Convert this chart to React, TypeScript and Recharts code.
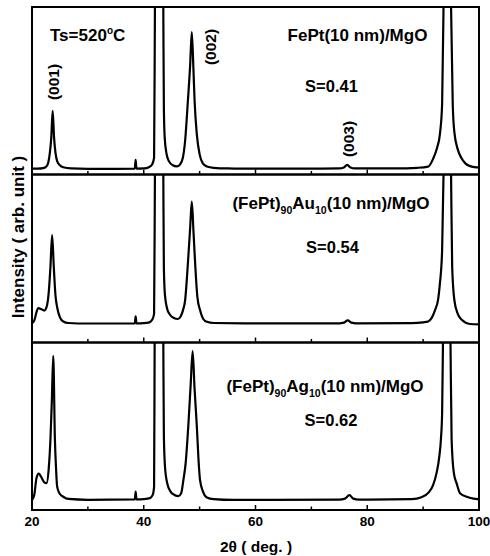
import React from 'react';
import { LineChart, Line, XAxis, YAxis, ReferenceArea } from 'recharts';

// 2θ (deg) vs intensity (% of panel height)
const fePtScan: [number, number][] = [
  [20, 3.5], [21, 3.5], [22, 3.8], [22.5, 4.5], [22.9, 7], [23.2, 13], [23.45, 22], [23.7, 38],
  [23.95, 22], [24.2, 13], [24.5, 8], [25, 5.5], [25.6, 4.3], [27, 3.6], [30, 3.4], [35, 3.4],
  [38.4, 3.5], [38.55, 8.7], [38.7, 3.5], [40, 3.6], [41, 4.5], [41.5, 6], [41.85, 10], [42, 100],
  [42.3, 250], [42.75, 400], [43.2, 250], [43.5, 100], [43.6, 40], [43.75, 22], [44.1, 12], [44.5, 8],
  [45.2, 5.5], [45.9, 4.8], [46.5, 6], [47, 10], [47.4, 20], [47.9, 44], [48.3, 65], [48.6, 85],
  [48.9, 62], [49.1, 44], [49.5, 24], [50, 12], [50.6, 6.5], [51.3, 4.8], [52.5, 4], [55, 3.6],
  [60, 3.5], [70, 3.5], [75, 3.6], [75.8, 4.2], [76.4, 5.8], [77, 4.2], [77.8, 3.6], [85, 3.6],
  [89, 4], [90.9, 4.7], [91.8, 9.5], [92.5, 16], [93, 24], [93.4, 42], [93.65, 100], [94.3, 400],
  [95, 100], [95.3, 42], [95.6, 25], [96.2, 15], [96.9, 9.5], [97.6, 6.5], [98.4, 5], [99.2, 4.4], [100, 4.2],
];

const fePtAuScan: [number, number][] = [
  [20, 11.4], [20.4, 13], [20.8, 18], [21.1, 20.5], [21.6, 20], [22.2, 19], [22.6, 21], [23, 30],
  [23.3, 45], [23.6, 64], [23.9, 45], [24.2, 28], [24.5, 21], [25, 15], [25.6, 12.5], [26.5, 11.6],
  [30, 11.3], [38.4, 11.4], [38.55, 15.5], [38.7, 11.4], [40, 11.5], [41, 12], [41.5, 13.5], [41.85, 17],
  [42, 100], [42.3, 250], [42.75, 400], [43.2, 250], [43.5, 100], [43.6, 45], [43.8, 28], [44.2, 20],
  [44.7, 16.5], [45.4, 14.6], [46.1, 14], [46.6, 15.5], [47, 19], [47.4, 25], [47.9, 47], [48.3, 68],
  [48.6, 83.8], [48.9, 66], [49.2, 47], [49.6, 27], [50.1, 19], [50.65, 14], [51.3, 12.3], [52.5, 11.6],
  [60, 11.4], [75, 11.4], [75.8, 11.8], [76.5, 13.2], [77.2, 11.8], [78, 11.4], [88, 11.5], [90, 12],
  [90.9, 12.5], [92.1, 19], [92.7, 26], [93, 35], [93.4, 55], [93.65, 100], [94.3, 400], [95, 100],
  [95.2, 45], [95.6, 25], [96.2, 17], [96.9, 13.5], [98.4, 11], [100, 10.8],
];

const fePtAgScan: [number, number][] = [
  [20, 6], [20.4, 9], [20.8, 19], [21.2, 21.8], [21.6, 20], [22.2, 16.5], [22.6, 16], [23, 25],
  [23.3, 42], [23.55, 65], [23.8, 92], [24.1, 42], [24.3, 25], [24.5, 14], [24.9, 10], [25.6, 7.9],
  [26.5, 6.6], [30, 6.1], [38.4, 6.3], [38.55, 11], [38.7, 6.3], [40, 6.5], [41.1, 7.1], [41.6, 9],
  [41.85, 14], [41.95, 100], [42.3, 250], [42.75, 400], [43.2, 250], [43.5, 100], [43.6, 45], [43.8, 26],
  [44.2, 16], [44.8, 11], [45.5, 9], [46.2, 8.3], [46.7, 10], [47.1, 18], [47.5, 28], [47.97, 50],
  [48.4, 75], [48.75, 94.8], [49.1, 72], [49.5, 50], [49.8, 30], [50.07, 18], [50.6, 11], [51.3, 7.5],
  [52.5, 6.5], [56, 6], [75, 6.2], [76, 6.8], [76.8, 8.9], [77.5, 6.8], [78.5, 6.2], [88, 6.5],
  [89.7, 7.6], [91, 10.5], [91.8, 15], [92.4, 22], [92.9, 32], [93.2, 43], [93.4, 58], [93.55, 100],
  [94.2, 400], [94.9, 100], [95.1, 42], [95.5, 22], [96, 15.9], [96.6, 10], [97.8, 7.9], [99, 6.8], [100, 6.4],
];

const xTicks = [20, 30, 40, 50, 60, 70, 80, 90, 100];
const xLabelTicks = [20, 40, 60, 80, 100];

const W = 490;
const H = 556;
const AXIS_H = 30;
const FONT = "'Liberation Sans', Arial, Helvetica, sans-serif";
const panelEdges = [7, 174.5, 342.5, 510];

const toRows = (scan: [number, number][]) => scan.map(([t, i]) => ({ t, i }));

const makeTick = (showLabel: boolean) => (props: any) => {
  const { x, y, payload } = props;
  const major = xLabelTicks.includes(payload.value);
  return (
    <g>
      <line x1={x} x2={x} y1={y} y2={y - (major ? 5 : 3.5)} stroke="#000" strokeWidth={1.5} />
      {showLabel && major && (
        <text x={x} y={y + 16} textAnchor="middle" fontFamily={FONT} fontWeight="bold" fontSize={13.5} fill="#000">
          {payload.value}
        </text>
      )}
    </g>
  );
};

const Panel = ({ scan, index }: { scan: [number, number][]; index: number }) => {
  const top = panelEdges[index];
  const bottom = H - panelEdges[index + 1] - AXIS_H;
  return (
    <div style={{ position: 'absolute', left: 0, top: 0 }}>
      <LineChart width={W} height={H} data={toRows(scan)} margin={{ top, bottom, left: 32, right: 11 }}>
        <XAxis
          dataKey="t"
          type="number"
          domain={[20, 100]}
          ticks={xTicks}
          interval={0}
          axisLine={false}
          tickLine={false}
          tickSize={0}
          tickMargin={0}
          height={AXIS_H}
          tick={makeTick(index === 2)}
        />
        <YAxis hide type="number" domain={[0, 100]} allowDataOverflow />
        <ReferenceArea x1={20} x2={100} y1={0} y2={100} fill="none" fillOpacity={0} stroke="#000" strokeWidth={2} />
        <Line
          dataKey="i"
          type="monotone"
          stroke="#000"
          strokeWidth={2.2}
          dot={false}
          isAnimationActive={false}
        />
      </LineChart>
    </div>
  );
};

const txt = { fontFamily: FONT, fontWeight: 'bold' as const, fill: '#000' };

export default function App() {
  return (
    <div style={{ position: 'absolute', left: 0, top: 0, width: W, height: H, background: '#fff' }}>
      <Panel scan={fePtScan} index={0} />
      <Panel scan={fePtAuScan} index={1} />
      <Panel scan={fePtAgScan} index={2} />
      <svg width={W} height={H} style={{ position: 'absolute', left: 0, top: 0, pointerEvents: 'none' }}>
        <text x={50} y={41} fontSize={17} {...txt}>
          Ts=520<tspan dy={-7} fontSize={10}>o</tspan><tspan dy={7}>C</tspan>
        </text>
        <text transform="translate(53.5,82) rotate(-90)" textAnchor="middle" dominantBaseline="central" fontSize={15.5} {...txt}>(001)</text>
        <text transform="translate(210,47) rotate(-90)" textAnchor="middle" dominantBaseline="central" fontSize={15.5} {...txt}>(002)</text>
        <text transform="translate(348.5,139) rotate(-90)" textAnchor="middle" dominantBaseline="central" fontSize={15.5} {...txt}>(003)</text>
        <text x={357.5} y={41} textAnchor="middle" fontSize={17} {...txt}>FePt(10 nm)/MgO</text>
        <text x={331.5} y={91.5} textAnchor="middle" fontSize={16.5} {...txt}>S=0.41</text>

        <text x={331} y={209} textAnchor="middle" fontSize={17} {...txt}>
          (FePt)<tspan dy={5} fontSize={10.5}>90</tspan><tspan dy={-5}>Au</tspan><tspan dy={5} fontSize={10.5}>10</tspan><tspan dy={-5}>(10 nm)/MgO</tspan>
        </text>
        <text x={332.5} y={253} textAnchor="middle" fontSize={16.5} {...txt}>S=0.54</text>

        <text x={325} y={392} textAnchor="middle" fontSize={17} {...txt}>
          (FePt)<tspan dy={5} fontSize={10.5}>90</tspan><tspan dy={-5}>Ag</tspan><tspan dy={5} fontSize={10.5}>10</tspan><tspan dy={-5}>(10 nm)/MgO</tspan>
        </text>
        <text x={331} y={426} textAnchor="middle" fontSize={16.5} {...txt}>S=0.62</text>

        <text transform="translate(18,237) rotate(-90)" textAnchor="middle" dominantBaseline="central" fontSize={17} {...txt}>
          Intensity ( arb. unit )
        </text>
        <text x={256} y={552} textAnchor="middle" fontSize={15.5} {...txt}>2θ ( deg. )</text>
      </svg>
    </div>
  );
}
